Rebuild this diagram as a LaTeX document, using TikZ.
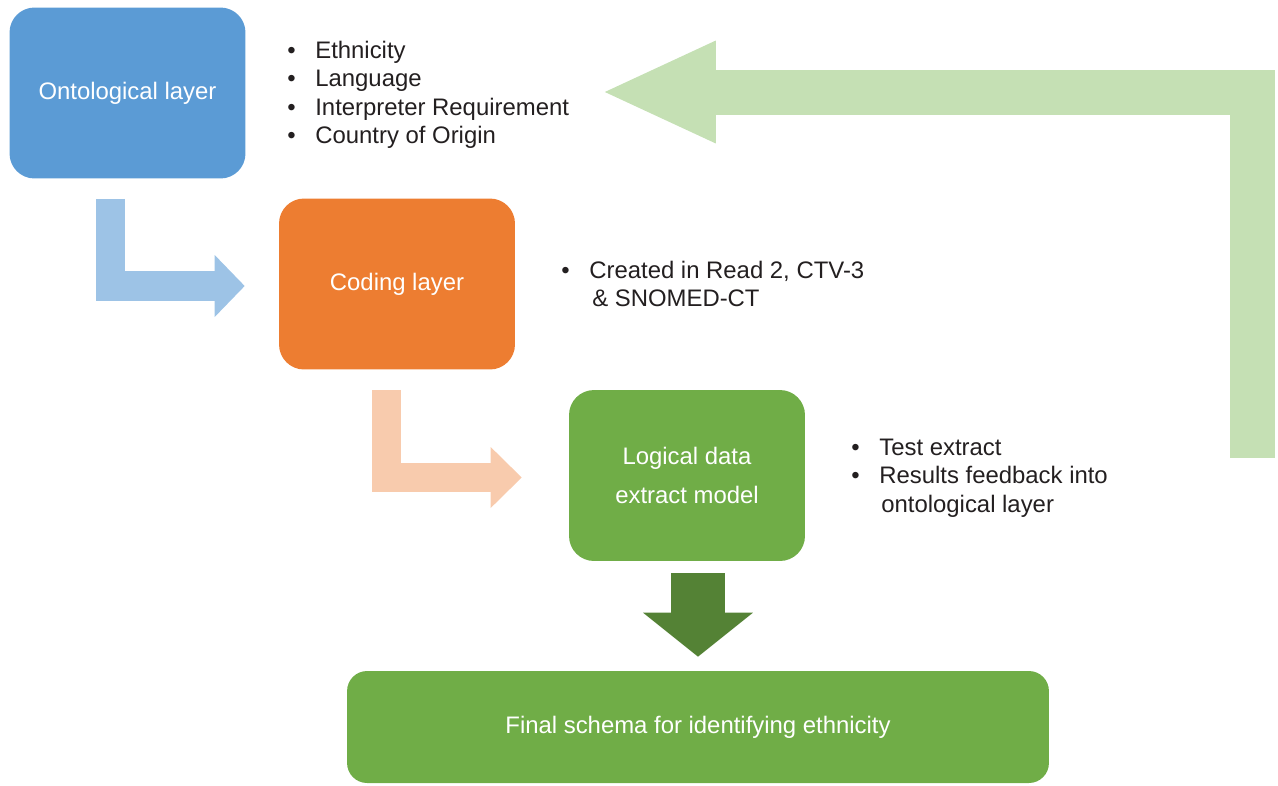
\documentclass[tikz,border=0pt]{standalone}
\usepackage{fontspec}
\setmainfont{Liberation Sans}
\usetikzlibrary{arrows.meta,calc}

\definecolor{ontoblue}{HTML}{5B9BD5}
\definecolor{codeorange}{HTML}{ED7D31}
\definecolor{logicgreen}{HTML}{70AD47}
\definecolor{darkgreen}{HTML}{548235}
\definecolor{paleblue}{HTML}{9DC3E6}
\definecolor{palepeach}{HTML}{F8CBAD}
\definecolor{palegreen}{HTML}{C5E0B4}
\definecolor{notegrey}{HTML}{231F20}

\newcommand{\itm}{\makebox[0.56cm][l]{\textbullet}}

\begin{document}
\begin{tikzpicture}[
    x=0.02cm, y=-0.02cm,
    every node/.style={font=\fontsize{13.6}{16.3}\selectfont},
    layerbox/.style={
        rounded corners=0.5cm,
        inner sep=0pt,
        text=white,
        align=center,
        minimum width=4.72cm,
        minimum height=3.42cm
    },
    notes/.style={anchor=base west, inner sep=0pt, text=notegrey},
    bentarrow/.style={line width=#1, line join=miter}
]
\useasboundingbox (0,0) rectangle (1278,785);
\clip (0,0) rectangle (1278,785);

% layers
\node[layerbox, fill=ontoblue] (onto) at (127.5,93) {Ontological layer};
\node[layerbox, fill=codeorange] (coding) at (397,284) {Coding layer};
\node[layerbox, fill=logicgreen] (logical) at (687,475.5)
    {Logical data\\[0.2cm]extract model};
\node[layerbox, fill=logicgreen, rounded corners=0.4cm,
      minimum width=14.04cm, minimum height=2.24cm] (final) at (698,727)
    {Final schema for identifying ethnicity};

% notes
\node[notes] (ontonotes) at (287,58) {\begin{tabular}[t]{@{}l@{}}
    \itm Ethnicity\\
    \itm Language\\
    \itm Interpreter Requirement\\
    \itm Country of Origin
  \end{tabular}};
\node[notes] (codenotes) at (561,278) {\begin{tabular}[t]{@{}l@{}}
    \itm Created in Read 2, CTV-3\\
    \hspace{0.62cm}\& SNOMED-CT
  \end{tabular}};
\node[notes] (logicnotes) at (851,455) {\begin{tabular}[t]{@{}l@{}}
    \itm Test extract\\
    \itm Results feedback into\\
    \hspace{0.6cm}ontological layer
  \end{tabular}};

% connectors
\coordinate (fbstart) at (1252.5,458);
\draw[bentarrow=0.9cm, palegreen,
      -{Triangle[length=2.22cm, width=2.06cm, line width=0pt]}]
    (fbstart) |- ([shift={(359,-1)}]onto.east);
\draw[bentarrow=0.6cm, paleblue,
      -{Triangle[length=0.6cm, width=1.24cm, line width=0pt]}]
    ([shift={(-17,20)}]onto.south) |- ([shift={(-34,2)}]coding.west);
\draw[bentarrow=0.58cm, palepeach,
      -{Triangle[length=0.62cm, width=1.22cm, line width=0pt]}]
    ([shift={(-11,20)}]coding.south) |- ([shift={(-47,2)}]logical.west);
\draw[line width=1.08cm, darkgreen,
      -{Triangle[length=0.88cm, width=2.2cm, line width=0pt]}]
    ($(logical.south -| final.north)+(0,12)$) -- ([shift={(0,-14)}]final.north);
\end{tikzpicture}
\end{document}
